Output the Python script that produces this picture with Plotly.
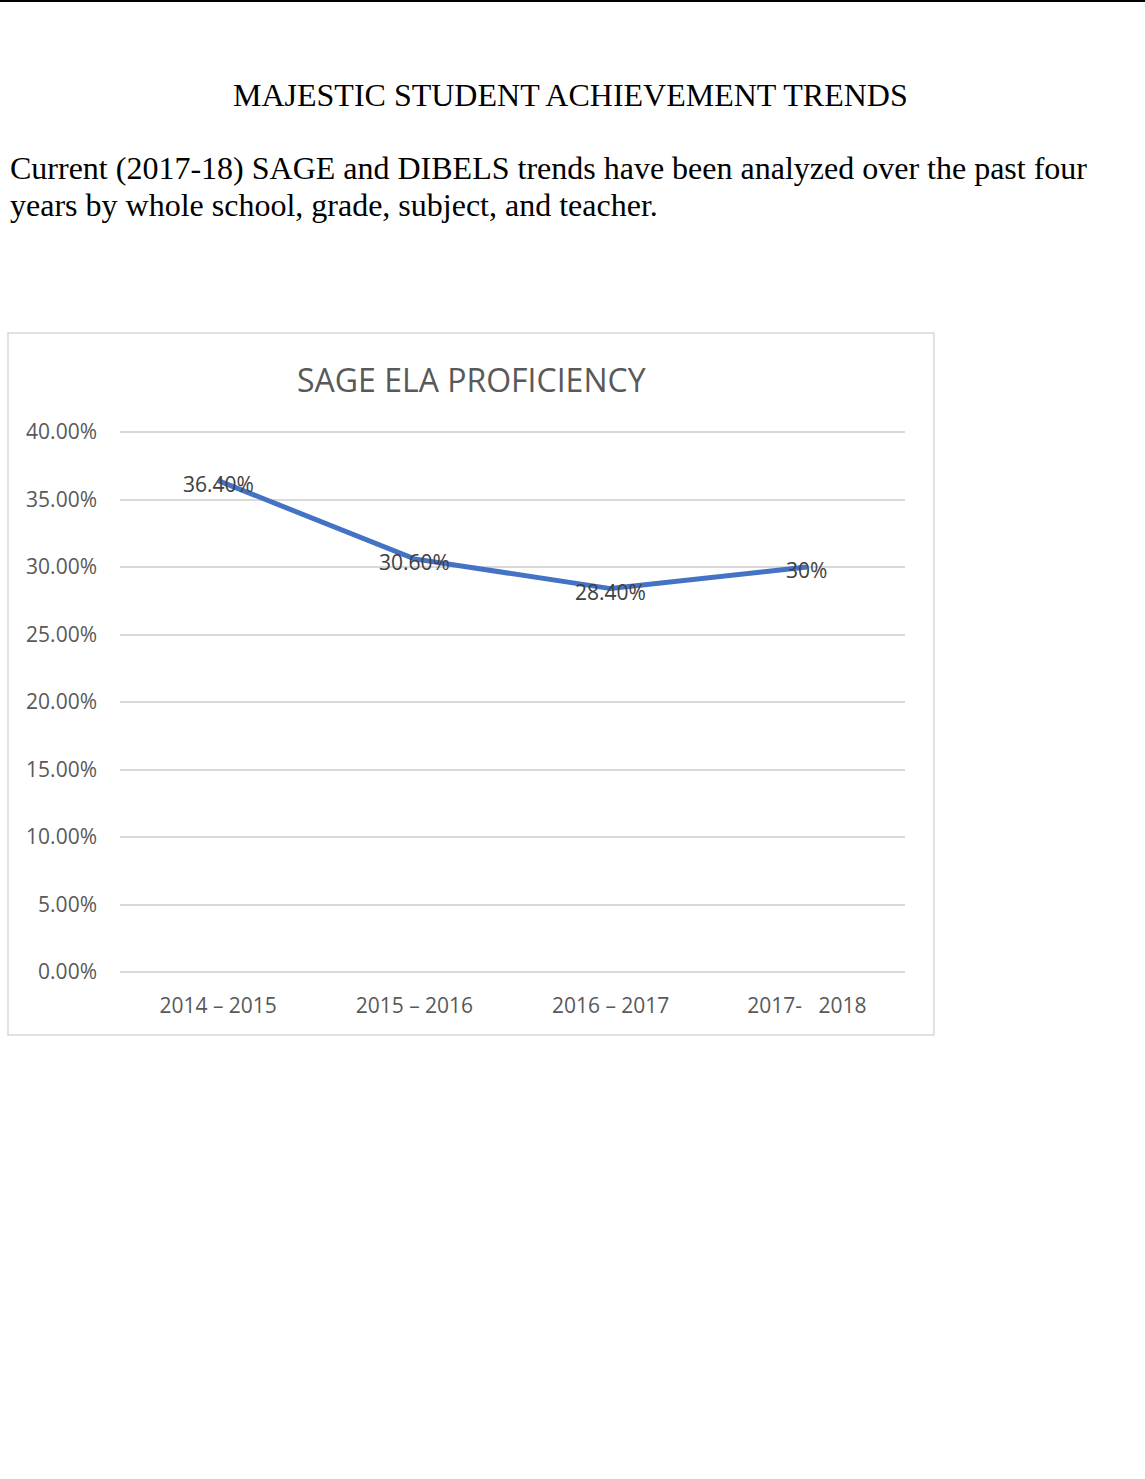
import plotly.graph_objects as go

categories = ["2014 – 2015", "2015 – 2016", "2016 – 2017", "2017-\u00a0\u00a0 2018"]
values = [0.364, 0.306, 0.284, 0.30]
value_labels = ["36.40%", "30.60%", "28.40%", "30%"]
y_ticks = [0, 0.05, 0.10, 0.15, 0.20, 0.25, 0.30, 0.35, 0.40]

page_title = "MAJESTIC STUDENT ACHIEVEMENT TRENDS"
para_lines = [
    "Current (2017-18) SAGE and DIBELS trends have been analyzed over the past four",
    "years by whole school, grade, subject, and teacher.",
]
chart_title = "SAGE ELA PROFICIENCY"

W, H = 1145, 1479
PL, PR, PT, PB = 120, 905, 430, 972
Y_MAX = 0.40 * (PB - PT) / (PB - 432)


def px(x):
    return (x - PL) / (PR - PL)


def py(y):
    return (PB - y) / (PB - PT)


fig = go.Figure()
fig.add_trace(go.Scatter(
    x=categories, y=values, mode="lines",
    line=dict(color="#4472C4", width=5),
    hoverinfo="skip", showlegend=False, cliponaxis=False,
))

serif = "Liberation Serif"
annotations = [
    dict(text=page_title, x=px(570), y=py(95), xanchor="center", yanchor="middle",
         font=dict(family=serif, size=32, color="black")),
    dict(text=para_lines[0], x=px(8), y=py(168), xanchor="left", yanchor="middle",
         font=dict(family=serif, size=32, color="black")),
    dict(text=para_lines[1], x=px(8), y=py(205), xanchor="left", yanchor="middle",
         font=dict(family=serif, size=32, color="black")),
    dict(text=chart_title, x=px(471), y=py(379), xanchor="center", yanchor="middle",
         font=dict(family="Open Sans", size=32, color="#595959")),
]
for a in annotations:
    a.update(xref="paper", yref="paper", showarrow=False)

for cat, val, lab in zip(categories, values, value_labels):
    annotations.append(dict(
        text=lab, x=cat, y=val, xref="x", yref="y", showarrow=False,
        xanchor="center", yanchor="middle", yshift=-3,
        font=dict(family="Open Sans", size=21, color="#404040"),
    ))

shapes = [
    dict(type="line", xref="paper", yref="paper", x0=px(0), x1=px(W), y0=py(1), y1=py(1),
         line=dict(color="black", width=2)),
    dict(type="rect", xref="paper", yref="paper", x0=px(8), x1=px(934), y0=py(333), y1=py(1035),
         line=dict(color="#D9D9D9", width=1.5), layer="below"),
]

fig.update_layout(
    width=W, height=H,
    margin=dict(l=PL, r=W - PR, t=PT, b=H - PB, pad=0),
    paper_bgcolor="white", plot_bgcolor="white",
    annotations=annotations, shapes=shapes,
    xaxis=dict(type="category", range=[-0.5, 3.5], showgrid=False, showline=False,
               zeroline=False, ticks="", ticklabelstandoff=19,
               tickfont=dict(family="Open Sans", size=21, color="#595959"), fixedrange=True),
    yaxis=dict(range=[0, Y_MAX], tickvals=y_ticks, tickformat=".2%", showgrid=True,
               gridcolor="#D9D9D9", gridwidth=1.5, zeroline=True, zerolinecolor="#D9D9D9",
               zerolinewidth=1.5, showline=False, ticks="", ticklabelstandoff=22,
               tickfont=dict(family="Open Sans", size=21, color="#595959"), fixedrange=True),
)

fig.write_html("out.html", config={"displayModeBar": False})
